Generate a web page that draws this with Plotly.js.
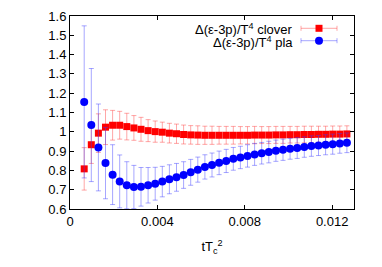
<!DOCTYPE html>
<html>
<head>
<meta charset="utf-8">
<script src="https://cdn.plot.ly/plotly-3.0.1.min.js"></script>
<style>html,body{margin:0;padding:0;background:#fff;}#chart{width:382px;height:267px;}</style>
</head>
<body>
<div id="chart"></div>
<script>
var xValues = [0.00065,0.000975,0.0013,0.001625,0.00195,0.002275,0.0026,0.002925,0.00325,0.003575,0.0039,0.004225,0.00455,0.004875,0.0052,0.005525,0.00585,0.006175,0.0065,0.006825,0.00715,0.007475,0.0078,0.008125,0.00845,0.008775,0.0091,0.009425,0.00975,0.010075,0.0104,0.010725,0.01105,0.011375,0.0117,0.012025,0.01235,0.012675];
var cloverValues = [0.808,0.933,0.993,1.024,1.034,1.034,1.027,1.020,1.013,1.006,1.001,0.998,0.993,0.990,0.986,0.984,0.983,0.982,0.982,0.982,0.982,0.982,0.982,0.982,0.983,0.983,0.983,0.984,0.984,0.985,0.985,0.986,0.986,0.987,0.987,0.988,0.988,0.989];
var cloverErrors = [0.11,0.097,0.10,0.09,0.077,0.072,0.069,0.064,0.062,0.057,0.055,0.052,0.051,0.050,0.049,0.048,0.048,0.047,0.047,0.046,0.046,0.046,0.045,0.045,0.045,0.044,0.044,0.044,0.044,0.043,0.043,0.043,0.043,0.042,0.042,0.042,0.042,0.042];
var plaValues = [1.155,1.035,0.919,0.838,0.778,0.743,0.723,0.714,0.715,0.723,0.731,0.742,0.754,0.764,0.776,0.790,0.804,0.818,0.828,0.839,0.849,0.860,0.867,0.875,0.883,0.889,0.895,0.902,0.907,0.912,0.916,0.921,0.926,0.929,0.933,0.936,0.940,0.943];
var plaErrors = [0.394,0.293,0.225,0.185,0.155,0.137,0.122,0.112,0.100,0.092,0.085,0.079,0.075,0.072,0.069,0.067,0.065,0.063,0.062,0.061,0.060,0.059,0.058,0.058,0.057,0.056,0.056,0.055,0.055,0.054,0.054,0.053,0.053,0.052,0.052,0.052,0.051,0.051];
var seriesNames = ["Δ(ε-3p)/T<sup>4</sup> clover", "Δ(ε-3p)/T<sup>4</sup> pla"];
var xTickVals = [0, 0.004, 0.008, 0.012];
var xTickText = ["0", "0.004", "0.008", "0.012"];
var yTickVals = [0.6,0.7,0.8,0.9,1.0,1.1,1.2,1.3,1.4,1.5,1.6];
var yTickText = ["0.6","0.7","0.8","0.9","1","1.1","1.2","1.3","1.4","1.5","1.6"];

var FONT = "Liberation Sans, Arial, Helvetica, sans-serif";
var FS = 13;
var redErr = "rgba(255,60,60,0.45)";
var blueErr = "rgba(60,60,255,0.45)";

var traces = [
  {x: xValues, y: cloverValues, type: "scatter", mode: "markers", name: seriesNames[0],
   marker: {symbol: "square", size: 7, color: "#ff0000"},
   error_y: {type: "data", array: cloverErrors, visible: true, color: redErr, thickness: 1, width: 2.5}},
  {x: xValues, y: plaValues, type: "scatter", mode: "markers", name: seriesNames[1],
   marker: {symbol: "circle", size: 8, color: "#0000ff"},
   error_y: {type: "data", array: plaErrors, visible: true, color: blueErr, thickness: 1, width: 2.5}}
];

// legend drawn gnuplot-style: text, then sample on the right
var L = 70, R = 354, T = 16, B = 209;
function px(x){ return (x - L) / (R - L); }
function py(y){ return (B - y) / (B - T); }
var rows = [28.3, 40.7];
var lx0 = 301, lx1 = 337, lxm = 319;
var shapes = [], annotations = [];
var cols = [["#ff0000", redErr, "rect", 3.5], ["#0000ff", blueErr, "circle", 4]];
for (var i = 0; i < 2; i++) {
  var yy = rows[i];
  shapes.push({type: "line", xref: "paper", yref: "paper", x0: px(lx0), x1: px(lx1), y0: py(yy), y1: py(yy), line: {color: cols[i][1], width: 1}});
  shapes.push({type: "line", xref: "paper", yref: "paper", x0: px(lx0), x1: px(lx0), y0: py(yy - 2.5), y1: py(yy + 2.5), line: {color: cols[i][1], width: 1}});
  shapes.push({type: "line", xref: "paper", yref: "paper", x0: px(lx1), x1: px(lx1), y0: py(yy - 2.5), y1: py(yy + 2.5), line: {color: cols[i][1], width: 1}});
  var h = cols[i][3];
  shapes.push({type: cols[i][2], xref: "paper", yref: "paper", x0: px(lxm - h), x1: px(lxm + h), y0: py(yy - h), y1: py(yy + h), fillcolor: cols[i][0], line: {color: cols[i][0], width: 0}});
  annotations.push({xref: "paper", yref: "paper", x: px(294), y: py(yy + 1), xanchor: "right", yanchor: "middle", showarrow: false, borderpad: 0, text: seriesNames[i], font: {family: FONT, size: FS, color: "#000"}});
}

var axisCommon = {showgrid: false, zeroline: false, showline: true, linecolor: "#000", linewidth: 1, mirror: "ticks", ticks: "inside", ticklen: 4, tickcolor: "#000", tickfont: {family: FONT, size: FS, color: "#000"}};

var layout = {
  width: 382, height: 267,
  margin: {l: L, r: 382 - R, t: T, b: 267 - B},
  paper_bgcolor: "#fff", plot_bgcolor: "#fff",
  showlegend: false,
  font: {family: FONT, size: FS, color: "#000"},
  xaxis: Object.assign({}, axisCommon, {range: [0, 0.013], tickvals: xTickVals, ticktext: xTickText,
    title: {text: "tT<sub>c</sub><sup>2</sup>", font: {family: FONT, size: FS, color: "#000"}, standoff: 14}}),
  yaxis: Object.assign({}, axisCommon, {range: [0.6, 1.6], tickvals: yTickVals, ticktext: yTickText}),
  shapes: shapes,
  annotations: annotations
};

Plotly.newPlot("chart", traces, layout, {staticPlot: true, displayModeBar: false});
</script>
</body>
</html>
